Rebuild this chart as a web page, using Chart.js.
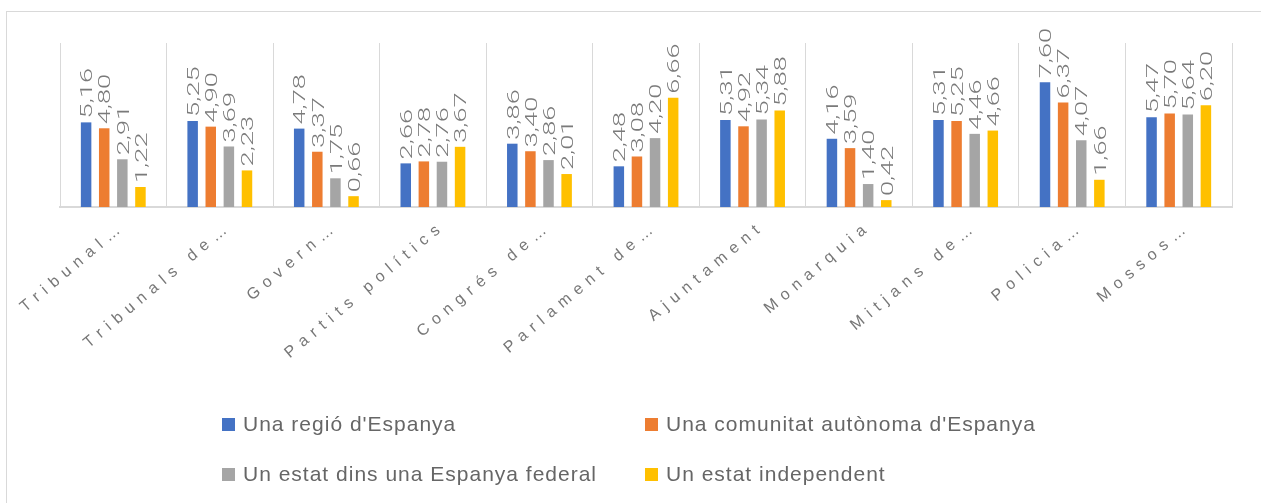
<!DOCTYPE html>
<html>
<head>
<meta charset="utf-8">
<script src="https://cdn.jsdelivr.net/npm/chart.js@4.4.1/dist/chart.umd.min.js"></script>
<style>
    html, body { margin: 0; padding: 0; background: #fff; overflow: hidden; }
    #marc { position: absolute; left: 6px; top: 11px; width: 1300px; height: 600px; border: 1px solid #d9d9d9; box-sizing: border-box; }
    #grafic { position: absolute; left: 0; top: 0; }
</style>
</head>
<body>
<div id="marc"></div>
<canvas id="grafic" width="1261" height="503"></canvas>
<script>
// --- Dades ---
const categories = ['Tribunal…', 'Tribunals de…', 'Govern…', 'Partits polítics', 'Congrés de…',
    'Parlament de…', 'Ajuntament', 'Monarquia', 'Mitjans de…', 'Policia…', 'Mossos…'];
const seriesNames = ["Una regió d'Espanya", "Una comunitat autònoma d'Espanya",
    'Un estat dins una Espanya federal', 'Un estat independent'];
const regio = [5.16, 5.25, 4.78, 2.66, 3.86, 2.48, 5.31, 4.16, 5.31, 7.60, 5.47];
const comunitat = [4.80, 4.90, 3.37, 2.78, 3.40, 3.08, 4.92, 3.59, 5.25, 6.37, 5.70];
const federal = [2.91, 3.69, 1.75, 2.76, 2.86, 4.20, 5.34, 1.40, 4.46, 4.07, 5.64];
const independent = [1.22, 2.23, 0.66, 3.67, 2.01, 6.66, 5.88, 0.42, 4.66, 1.66, 6.20];
const colors = ['#4472c4', '#ed7d31', '#a5a5a5', '#ffc000'];

const textGris = '#6e6e6e';

// etiquetes de valor girades sobre cada barra
const etiquetesValor = {
    id: 'etiquetesValor',
    afterDatasetsDraw(chart) {
        const ctx = chart.ctx;
        ctx.save();
        ctx.fillStyle = '#7a7a7a';
        ctx.font = '300 17px Roboto, "Liberation Sans", sans-serif';
        ctx.textAlign = 'left';
        ctx.textBaseline = 'middle';
        chart.data.datasets.forEach((ds, i) => {
            const meta = chart.getDatasetMeta(i);
            meta.data.forEach((bar, j) => {
                const txt = ds.data[j].toFixed(2).replace('.', ',');
                ctx.save();
                ctx.translate(bar.x + 2, bar.y - 4);
                ctx.rotate(-Math.PI / 2);
                ctx.scale(1.6, 1);
                ctx.fillText(txt, 0, 0);
                ctx.restore();
            });
        });
        ctx.restore();
    }
};

// espaiat de lletres per a les categories
const espaiat = {
    id: 'espaiat',
    beforeDraw(chart) { chart.ctx.letterSpacing = '6.5px'; },
    beforeDatasetsDraw(chart) { chart.ctx.letterSpacing = '0px'; }
};

// llegenda en dues columnes
const llegenda = {
    id: 'llegenda',
    afterDraw(chart) {
        const ctx = chart.ctx;
        const colX = [222, 645];
        const rowY = [424, 474];
        ctx.save();
        ctx.font = '21px "Liberation Sans", Arial, sans-serif';
        ctx.letterSpacing = '1px';
        ctx.textAlign = 'left';
        ctx.textBaseline = 'middle';
        chart.data.datasets.forEach((ds, i) => {
            const x = colX[i % 2];
            const y = rowY[Math.floor(i / 2)];
            ctx.fillStyle = ds.backgroundColor;
            ctx.fillRect(x, y - 6, 13, 13);
            ctx.fillStyle = '#666666';
            ctx.fillText(ds.label, x + 21, y + 1);
        });
        ctx.restore();
    }
};

const datasets = [regio, comunitat, federal, independent].map((valors, i) => ({
    label: seriesNames[i],
    data: valors,
    backgroundColor: colors[i],
    categoryPercentage: 0.68,
    barPercentage: 0.58
}));

new Chart(document.getElementById('grafic'), {
    type: 'bar',
    data: { labels: categories, datasets },
    options: {
        responsive: false,
        animation: false,
        devicePixelRatio: 1,
        layout: { padding: { left: 60, right: 29, top: 43, bottom: 0 } },
        plugins: { legend: { display: false }, tooltip: { enabled: false } },
        scales: {
            x: {
                grid: { color: '#d9d9d9', lineWidth: 1, drawTicks: false, offset: true },
                border: { color: '#d9d9d9', width: 2 },
                ticks: {
                    color: '#777777',
                    font: { family: '"Liberation Sans", Arial, sans-serif', size: 16 },
                    minRotation: 40,
                    maxRotation: 40,
                    autoSkip: false,
                    padding: 10,
                    labelOffset: 10
                },
                afterFit: (s) => { s.height = 296; }
            },
            y: { display: false, min: 0, max: 10 }
        }
    },
    plugins: [espaiat, etiquetesValor, llegenda]
});
</script>
</body>
</html>
